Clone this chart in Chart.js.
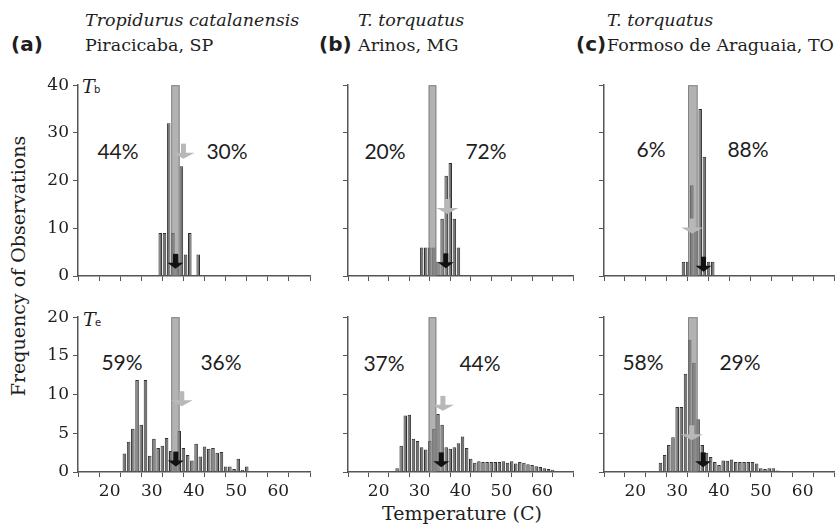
<!DOCTYPE html>
<html>
<head>
<meta charset="utf-8">
<script src="https://cdn.jsdelivr.net/npm/chart.js@4.4.1/dist/chart.umd.min.js"></script>
<style>
body{margin:0;background:#fff;width:838px;height:529px;overflow:hidden;position:relative;font-family:"DejaVu Serif",serif;color:#1e1e1e}
canvas{position:absolute}
.t{position:absolute;white-space:nowrap;line-height:1}
.ttl{font-size:17.5px}
.it{font-style:italic}
.lab{font-family:"DejaVu Sans",sans-serif;font-weight:bold;font-size:20px}
.pct{font-family:Lato,sans-serif;font-size:21px;transform:translate(-50%,-50%)}
.sym{font-size:19px;font-style:italic}
.sub{font-family:"DejaVu Sans",sans-serif;font-size:10px}
</style>
</head>
<body>

<div class="t lab" style="left:11px;top:34px">(a)</div>
<div class="t ttl it" style="left:85px;top:12px">Tropidurus catalanensis</div>
<div class="t ttl" style="left:85px;top:37px">Piracicaba, SP</div>
<div class="t lab" style="left:319px;top:34px">(b)</div>
<div class="t ttl it" style="left:358px;top:12px">T. torquatus</div>
<div class="t ttl" style="left:358px;top:37px">Arinos, MG</div>
<div class="t lab" style="left:576px;top:34px">(c)</div>
<div class="t ttl it" style="left:607px;top:12px">T. torquatus</div>
<div class="t ttl" style="left:607px;top:37px">Formoso de Araguaia, TO</div>

<div class="t sym" style="left:82px;top:77px">T</div><div class="t sub" style="left:94px;top:85px">b</div>
<div class="t sym" style="left:83px;top:310px">T</div><div class="t sub" style="left:95px;top:318px">e</div>

<div class="t pct" style="left:118px;top:150px">44%</div>
<div class="t pct" style="left:227px;top:150px">30%</div>
<div class="t pct" style="left:122px;top:361px">59%</div>
<div class="t pct" style="left:221px;top:361px">36%</div>
<div class="t pct" style="left:385px;top:150px">20%</div>
<div class="t pct" style="left:486px;top:150px">72%</div>
<div class="t pct" style="left:384px;top:362px">37%</div>
<div class="t pct" style="left:480px;top:362px">44%</div>
<div class="t pct" style="left:651px;top:148px">6%</div>
<div class="t pct" style="left:748px;top:148px">88%</div>
<div class="t pct" style="left:643px;top:361px">58%</div>
<div class="t pct" style="left:740px;top:361px">29%</div>

<div class="t" style="left:18px;top:266px;font-size:19px;transform:translate(-50%,-50%) rotate(-90deg)">Frequency of Observations</div>
<div class="t" style="left:462px;top:513px;font-size:19px;transform:translate(-50%,-50%)">Temperature (C)</div>

<canvas id="aTb"></canvas><canvas id="bTb"></canvas><canvas id="cTb"></canvas>
<canvas id="aTe"></canvas><canvas id="bTe"></canvas><canvas id="cTe"></canvas>

<script>
// body temperatures (Tb)
const aTbTemp=[32,33,34,35,36,37,38,39,41];
const aTbFreq=[9,9,32,9,4.5,23,4.5,9,4.5];
const bTbTemp=[30.5,31.5,32.5,33.5,34.5,35.5,36.5,37.5,38.5,39.5];
const bTbFreq=[6,6,6,6,3,12,21,23.7,12,6];
const cTbTemp=[31.5,32.5,33.5,34.5,35.5,36.5,37.5,38.5];
const cTbFreq=[3,3,19,9.5,35,25,3,3];

// operative temperatures (Te)
const aTeTemp=[22.5,23.5,24.5,25.5,26.5,27.5,28.5,29.5,30.5,31.5,32.5,33.5,34.5,35.5,36.5,37.5,38.5,39.5,40.5,41.5,42.5,43.5,44.5,45.5,46.5,47.5,48.5,49.5,50.5,51.5,52.5];
const aTeFreq=[0.1,2.4,3.9,5.6,11.9,6.1,11.9,2.1,4.3,3.1,3.4,4.4,2.7,2.5,5.3,3.1,2.2,1.5,3.65,2.0,3.3,3.0,3.1,2.5,2.6,0.7,0.7,0.4,1.7,0.3,0.7];
const bTeTemp=[24.5,25.5,26.5,27.5,28.5,29.5,30.5,31.5,32.5,33.5,34.5,35.5,36.5,37.5,38.5,39.5,40.5,41.5,42.5,43.5,44.5,45.5,46.5,47.5,48.5,49.5,50.5,51.5,52.5,53.5,54.5,55.5,56.5,57.5,58.5,59.5,60.5,61.5,62.5];
const bTeFreq=[0.5,3.4,7.3,7.4,4.3,4.0,3.2,2.9,4.0,5.6,7.5,6.1,3.2,3.0,3.2,3.7,4.6,3.1,1.7,1.2,1.4,1.3,1.3,1.3,1.3,1.3,1.4,1.2,1.4,1.1,1.3,1.2,1.0,0.9,0.75,0.65,0.5,0.4,0.3];
const cTeTemp=[25,26,27,28,29,30,31,32,33,34,35,36,37,38,39,40,41,42,43,44,45,46,47,48,49,50,51,52,53,54,55];
const cTeFreq=[0.1,1.2,2.2,3.5,4.5,8.4,8.4,12.7,17.1,14.1,6.8,3.5,2.5,1.95,1.3,0.9,1.5,1.45,1.6,1.3,1.3,1.3,1.3,1.3,1.1,0.5,0.4,0.5,0.5,0.2,0.05];

// preferred temperature ranges (shaded band), [from, to]
const aBand=[34.6,36.6];
const bBand=[32.2,34.1];
const cBand=[32.6,34.9];

// arrows: [temperature, frequency at arrow tip]
const aTbGray=[37.5,24.6], aTbBlack=[35.6,1.5];
const aTeGray=[37.1,8.5],  aTeBlack=[35.7,0.7];
const bTbGray=[36.8,13.0], bTbBlack=[36.4,1.6];
const bTeGray=[35.7,7.9],  bTeBlack=[35.3,0.6];
const cTbGray=[33.6,8.9],  cTbBlack=[36.3,0.9];
const cTeGray=[33.5,4.1],  cTeBlack=[36.2,0.6];

const xTicks=[20,30,40,50,60];

function arrow(ctx,px,py,hw,col){
  ctx.fillStyle=col;
  ctx.fillRect(px-2.5,py-15,5,10);
  ctx.beginPath();
  ctx.moveTo(px-hw,py-6);
  ctx.lineTo(px+hw,py-6);
  ctx.lineTo(px,py);
  ctx.closePath();
  ctx.fill();
}

const marks={
  id:'marks',
  afterDatasetsDraw(chart,args,o){
    const {ctx,chartArea:a,scales:{x,y}}=chart;
    ctx.save();
    const x0=x.getPixelForValue(o.band[0]),x1=x.getPixelForValue(o.band[1]);
    ctx.fillStyle='rgba(130,130,130,0.62)';
    ctx.fillRect(x0,a.top,x1-x0,a.bottom-a.top);
    ctx.strokeStyle='rgba(110,110,110,0.7)';
    ctx.lineWidth=1;
    ctx.strokeRect(x0+0.5,a.top+0.5,x1-x0-1,a.bottom-a.top-1);
    arrow(ctx,x.getPixelForValue(o.gray[0]),y.getPixelForValue(o.gray[1]),11,'#b8b8b8');
    arrow(ctx,x.getPixelForValue(o.black[0]),y.getPixelForValue(o.black[1]),8,'#111');
    ctx.restore();
  }
};

const W=45,PT=12,PR=4,H=34;
function panel(id,temps,freqs,band,gray,black,left,right,top,bottom,yMax,yStep,showY,showX){
  const cv=document.getElementById(id);
  const w=W+(right-left)+PR, h=PT+(bottom-top)+H;
  cv.width=w;cv.height=h;
  cv.style.left=(left-W)+'px';cv.style.top=(top-PT)+'px';
  cv.style.width=w+'px';cv.style.height=h+'px';
  const tickFont={family:'DejaVu Serif',size:17};
  new Chart(cv,{
    type:'bar',
    data:{datasets:[{
      data:temps.map((t,i)=>({x:t,y:freqs[i]})),
      backgroundColor:'#767676',
      borderColor:'#303030',
      borderWidth:1,
      barPercentage:0.85,
      categoryPercentage:1
    }]},
    options:{
      responsive:false,
      animation:false,
      devicePixelRatio:1,
      layout:{padding:{top:PT,right:PR,left:0,bottom:0}},
      plugins:{legend:{display:false},tooltip:{enabled:false},marks:{band,gray,black}},
      scales:{
        x:{type:'linear',min:15,max:65,
          ticks:{stepSize:5,autoSkip:false,maxRotation:0,padding:4,color:'#1e1e1e',font:tickFont,
            callback:v=>showX&&xTicks.includes(v)?v:''},
          grid:{drawOnChartArea:false,drawTicks:true,tickLength:5,color:'#555'},
          border:{color:'#555',width:1.5},
          afterFit(s){s.height=H;}
        },
        y:{min:0,max:yMax,
          ticks:{stepSize:yStep,padding:4,color:'#1e1e1e',font:tickFont,
            callback:v=>showY?v:''},
          grid:{drawOnChartArea:false,drawTicks:true,tickLength:5,color:'#555'},
          border:{color:'#555',width:1.5},
          afterFit(s){s.width=W;}
        }
      }
    },
    plugins:[marks]
  });
}

panel('aTb',aTbTemp,aTbFreq,aBand,aTbGray,aTbBlack,78,310,83,276,40,10,true,false);
panel('bTb',bTbTemp,bTbFreq,bBand,bTbGray,bTbBlack,348,573,83,276,40,10,false,false);
panel('cTb',cTbTemp,cTbFreq,cBand,cTbGray,cTbBlack,604,834,83,276,40,10,false,false);
panel('aTe',aTeTemp,aTeFreq,aBand,aTeGray,aTeBlack,78,310,315,472,20,5,true,true);
panel('bTe',bTeTemp,bTeFreq,bBand,bTeGray,bTeBlack,348,573,315,472,20,5,false,true);
panel('cTe',cTeTemp,cTeFreq,cBand,cTeGray,cTeBlack,604,834,315,472,20,5,false,true);
</script>
</body>
</html>
